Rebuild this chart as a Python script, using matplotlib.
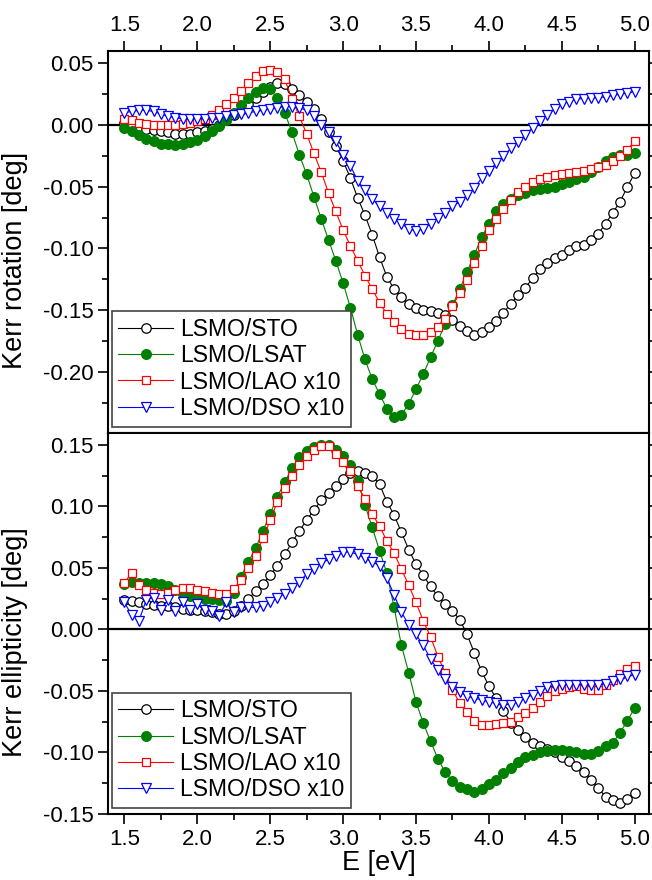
import numpy as np
import matplotlib
matplotlib.use("Agg")
import matplotlib.pyplot as plt
from matplotlib.ticker import MultipleLocator, FormatStrFormatter

plt.rcParams['font.family'] = ['Liberation Sans', 'DejaVu Sans']
plt.rcParams['axes.unicode_minus'] = False

# photon energy grid (eV)
energy = np.linspace(1.5, 5.0, 71)

# Kerr rotation [deg]
rot_sto = [0.002, 0.000, -0.002, -0.003, -0.004, -0.005, -0.006, -0.007, -0.007, -0.007,
           -0.006, -0.005, -0.003, 0.000, 0.004, 0.008, 0.012, 0.017, 0.022, 0.027,
           0.031, 0.034, 0.033, 0.029, 0.024, 0.019, 0.013, 0.005, -0.006, -0.017,
           -0.029, -0.043, -0.059, -0.073, -0.089, -0.107, -0.123, -0.133, -0.139, -0.145,
           -0.148, -0.150, -0.151, -0.152, -0.154, -0.158, -0.163, -0.167, -0.170, -0.168,
           -0.164, -0.159, -0.152, -0.145, -0.138, -0.132, -0.124, -0.117, -0.112, -0.108,
           -0.105, -0.101, -0.098, -0.097, -0.093, -0.088, -0.080, -0.071, -0.062, -0.050,
           -0.039]
rot_lsat = [-0.002, -0.005, -0.008, -0.011, -0.013, -0.015, -0.0155, -0.016, -0.0155, -0.014,
            -0.012, -0.009, -0.005, -0.001, 0.004, 0.010, 0.016, 0.022, 0.027, 0.030,
            0.029, 0.022, 0.010, -0.006, -0.024, -0.040, -0.058, -0.076, -0.093, -0.110,
            -0.128, -0.148, -0.170, -0.190, -0.206, -0.218, -0.230, -0.237, -0.235, -0.226,
            -0.214, -0.202, -0.188, -0.175, -0.161, -0.146, -0.133, -0.119, -0.105, -0.091,
            -0.080, -0.070, -0.064, -0.060, -0.057, -0.055, -0.053, -0.052, -0.051, -0.050,
            -0.048, -0.046, -0.044, -0.042, -0.038, -0.034, -0.029, -0.026, -0.024, -0.024,
            -0.023]
rot_lao = [0.005, 0.004, 0.002, 0.001, 0.000, 0.000, 0.000, 0.000, 0.001, 0.002,
           0.003, 0.005, 0.008, 0.012, 0.017, 0.022, 0.028, 0.034, 0.040, 0.044,
           0.045, 0.043, 0.037, 0.021, 0.007, -0.007, -0.023, -0.038, -0.055, -0.070,
           -0.085, -0.098, -0.110, -0.122, -0.133, -0.144, -0.153, -0.160, -0.165, -0.169,
           -0.170, -0.170, -0.168, -0.164, -0.157, -0.147, -0.136, -0.126, -0.112, -0.098,
           -0.085, -0.076, -0.068, -0.061, -0.054, -0.050, -0.046, -0.044, -0.042, -0.0405,
           -0.040, -0.039, -0.038, -0.0375, -0.036, -0.034, -0.032, -0.029, -0.025, -0.020,
           -0.013]
rot_dso = [0.010, 0.011, 0.012, 0.012, 0.011, 0.009, 0.007, 0.006, 0.005, 0.005,
           0.005, 0.005, 0.006, 0.006, 0.007, 0.008, 0.009, 0.010, 0.011, 0.012,
           0.013, 0.014, 0.015, 0.015, 0.014, 0.012, 0.007, 0.000, -0.006, -0.013,
           -0.024, -0.033, -0.045, -0.053, -0.060, -0.066, -0.071, -0.076, -0.080, -0.084,
           -0.086, -0.084, -0.080, -0.075, -0.071, -0.066, -0.062, -0.057, -0.051, -0.043,
           -0.037, -0.031, -0.025, -0.019, -0.0135, -0.008, -0.002, 0.003, 0.008, 0.013,
           0.017, 0.019, 0.021, 0.0215, 0.022, 0.022, 0.023, 0.024, 0.025, 0.026,
           0.027]

# Kerr ellipticity [deg]
ell_sto = [0.024, 0.023, 0.022, 0.021, 0.020, 0.019, 0.019, 0.018, 0.017, 0.016,
           0.016, 0.015, 0.014, 0.013, 0.013, 0.015, 0.019, 0.025, 0.031, 0.037,
           0.044, 0.052, 0.061, 0.071, 0.080, 0.089, 0.097, 0.105, 0.111, 0.117,
           0.122, 0.127, 0.129, 0.127, 0.125, 0.118, 0.104, 0.093, 0.079, 0.065,
           0.053, 0.044, 0.035, 0.027, 0.021, 0.015, 0.008, -0.004, -0.019, -0.034,
           -0.046, -0.056, -0.066, -0.076, -0.082, -0.087, -0.092, -0.095, -0.097, -0.100,
           -0.104, -0.107, -0.111, -0.116, -0.122, -0.129, -0.136, -0.139, -0.141, -0.138,
           -0.133]
ell_lsat = [0.037, 0.039, 0.038, 0.038, 0.038, 0.037, 0.035, 0.032, 0.029, 0.027,
            0.026, 0.025, 0.025, 0.024, 0.023, 0.030, 0.043, 0.055, 0.066, 0.080,
            0.094, 0.108, 0.120, 0.131, 0.140, 0.145, 0.148, 0.150, 0.150, 0.146,
            0.141, 0.134, 0.121, 0.101, 0.083, 0.064, 0.046, 0.018, -0.013, -0.035,
            -0.059, -0.076, -0.091, -0.105, -0.116, -0.123, -0.128, -0.130, -0.132, -0.130,
            -0.126, -0.122, -0.117, -0.113, -0.108, -0.104, -0.102, -0.100, -0.099, -0.098,
            -0.098, -0.099, -0.100, -0.101, -0.101, -0.099, -0.095, -0.092, -0.084, -0.074,
            -0.064]
ell_lao = [0.038, 0.046, 0.036, 0.032, 0.030, 0.029, 0.030, 0.032, 0.034, 0.034,
           0.032, 0.031, 0.030, 0.029, 0.029, 0.033, 0.040, 0.050, 0.060, 0.074,
           0.089, 0.104, 0.115, 0.125, 0.134, 0.141, 0.146, 0.149, 0.149, 0.143,
           0.136, 0.129, 0.117, 0.106, 0.094, 0.084, 0.072, 0.062, 0.049, 0.036,
           0.022, 0.007, -0.006, -0.022, -0.035, -0.049, -0.060, -0.067, -0.074, -0.078,
           -0.078, -0.077, -0.076, -0.075, -0.071, -0.068, -0.064, -0.059, -0.054, -0.050,
           -0.048, -0.047, -0.046, -0.048, -0.049, -0.049, -0.045, -0.041, -0.036, -0.032,
           -0.030]
ell_dso = [0.022, 0.012, 0.007, 0.024, 0.026, 0.016, 0.024, 0.015, 0.022, 0.016,
           0.021, 0.016, 0.015, 0.011, 0.022, 0.014, 0.018, 0.018, 0.018, 0.019,
           0.022, 0.026, 0.029, 0.034, 0.039, 0.045, 0.049, 0.054, 0.057, 0.060,
           0.063, 0.063, 0.061, 0.058, 0.055, 0.052, 0.042, 0.028, 0.014, 0.004,
           -0.004, -0.013, -0.024, -0.033, -0.040, -0.047, -0.051, -0.054, -0.056, -0.057,
           -0.059, -0.060, -0.061, -0.061, -0.059, -0.056, -0.053, -0.050, -0.047, -0.046,
           -0.045, -0.045, -0.045, -0.045, -0.045, -0.045, -0.044, -0.042, -0.040, -0.038,
           -0.037]

labels = ['LSMO/STO', 'LSMO/LSAT', 'LSMO/LAO x10', 'LSMO/DSO x10']
styles = [dict(color='black', marker='o', mfc='white', ms=6.8),
          dict(color='#008000', marker='o', mfc='#008000', ms=7),
          dict(color='red', marker='s', mfc='white', ms=6),
          dict(color='blue', marker='v', mfc='white', ms=7.5)]

fig = plt.figure(figsize=(6.52, 8.8), dpi=100)
ax1 = fig.add_axes([0.1661, 0.5083, 0.8298, 0.4337])
ax2 = fig.add_axes([0.1661, 0.075, 0.8298, 0.4333])

for ax, series in [(ax1, [rot_sto, rot_lsat, rot_lao, rot_dso]),
                   (ax2, [ell_sto, ell_lsat, ell_lao, ell_dso])]:
    ax.axhline(0, color='black', lw=1.6, zorder=1)
    for y, lab, st in zip(series, labels, styles):
        ax.plot(energy, y, lw=0.8, mew=0.9, label=lab, zorder=2, **st)
    ax.set_xlim(1.39, 5.10)
    ax.xaxis.set_major_locator(MultipleLocator(0.5))
    ax.xaxis.set_minor_locator(MultipleLocator(0.25))
    ax.xaxis.set_major_formatter(FormatStrFormatter('%.1f'))
    ax.yaxis.set_major_locator(MultipleLocator(0.05))
    ax.yaxis.set_minor_locator(MultipleLocator(0.025))
    ax.yaxis.set_major_formatter(FormatStrFormatter('%.2f'))
    for s in ax.spines.values():
        s.set_linewidth(1.5)
    ax.tick_params(which='major', direction='out', length=7, width=1.2, labelsize=16)
    ax.tick_params(which='minor', direction='out', length=4, width=1.2)
    ax.tick_params(axis='y', which='both', left=True, right=True, labelleft=True, labelright=False)
    leg = ax.legend(loc='lower left', bbox_to_anchor=(0.006, 0.016), numpoints=1,
                    fontsize=16.5, fancybox=False, framealpha=1, edgecolor='#444444',
                    handlelength=2.4, handletextpad=0.3, labelspacing=0.14,
                    borderpad=0.3, borderaxespad=0)
    leg.get_frame().set_linewidth(1.2)

ax1.set_ylim(-0.2494, 0.06)
ax1.tick_params(axis='x', which='both', top=True, bottom=False, labeltop=True, labelbottom=False)
ax1.set_ylabel('Kerr rotation [deg]', fontsize=19.5)
ax1.yaxis.set_label_coords(-0.148, 0.452)

ax2.set_ylim(-0.15, 0.16)
ax2.tick_params(axis='x', which='both', top=False, bottom=True, labelbottom=True)
ax2.set_ylabel('Kerr ellipticity [deg]', fontsize=19.5)
ax2.yaxis.set_label_coords(-0.148, 0.452)
ax2.set_xlabel('E [eV]', fontsize=19.5, labelpad=0)

fig.savefig('out.png', dpi=100)
